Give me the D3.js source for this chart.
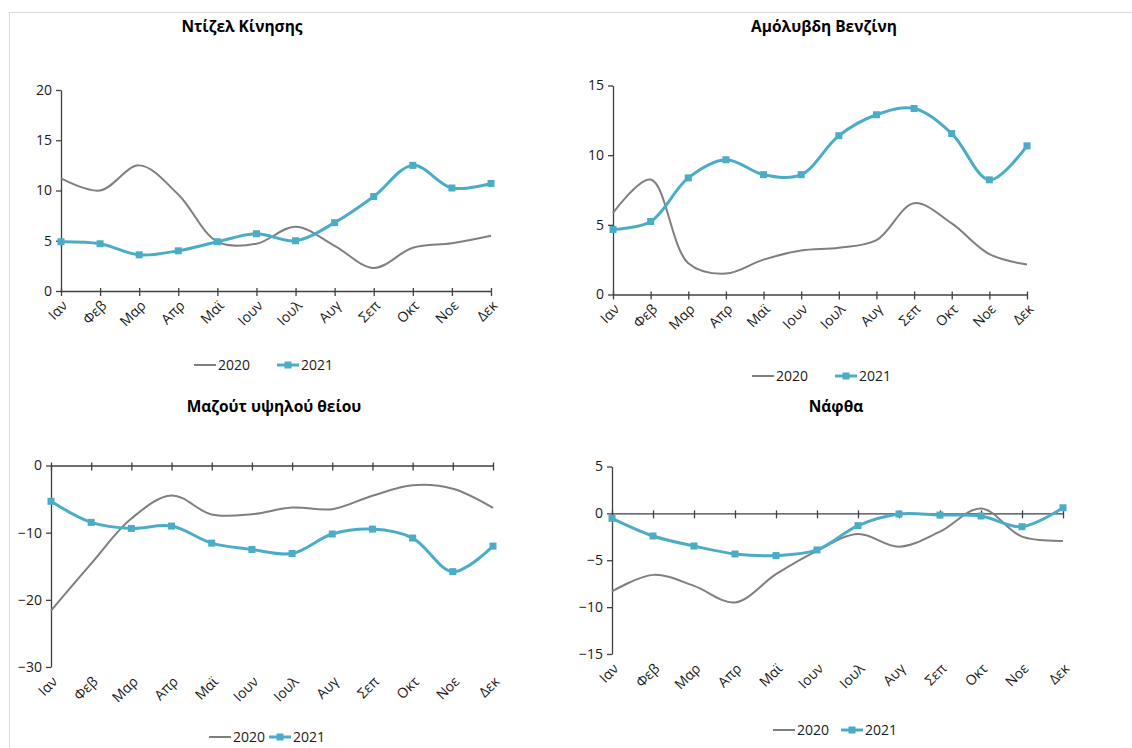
<!DOCTYPE html>
<html>
<head>
<meta charset="utf-8">
<script src="https://cdn.jsdelivr.net/npm/d3@7"></script>
<style>
  html, body { margin: 0; padding: 0; background: #ffffff; }
  svg { display: block; font-family: "Open Sans", "Noto Sans", sans-serif; }
</style>
</head>
<body>
<svg id="chart" width="1132" height="748"></svg>
<script>
// ---- Data ----
const months = ["Ιαν","Φεβ","Μαρ","Απρ","Μαϊ","Ιουν","Ιουλ","Αυγ","Σεπ","Οκτ","Νοε","Δεκ"];
const seriesNames = ["2020", "2021"];

const titles = ["Ντίζελ Κίνησης", "Αμόλυβδη Βενζίνη", "Μαζούτ υψηλού θείου", "Νάφθα"];

const diesel2020 = [11.2, 10.0, 12.5, 9.6, 4.9, 4.7, 6.4, 4.5, 2.3, 4.3, 4.75, 5.5];
const diesel2021 = [4.9, 4.7, 3.6, 4.0, 4.9, 5.7, 5.0, 6.8, 9.4, 12.5, 10.25, 10.7];

const petrol2020 = [5.85, 8.25, 2.25, 1.5, 2.5, 3.15, 3.35, 3.9, 6.55, 5.1, 2.9, 2.15];
const petrol2021 = [4.67, 5.24, 8.37, 9.67, 8.6, 8.6, 11.4, 12.9, 13.35, 11.55, 8.23, 10.67];

const fuelOil2020 = [-21.6, -14.6, -7.9, -4.45, -7.3, -7.25, -6.25, -6.5, -4.5, -2.95, -3.45, -6.3];
const fuelOil2021 = [-5.33, -8.47, -9.37, -9.02, -11.56, -12.5, -13.1, -10.2, -9.47, -10.8, -15.8, -12.0];

const naphtha2020 = [-8.33, -6.56, -7.73, -9.5, -6.49, -4.0, -2.2, -3.55, -1.95, 0.53, -2.48, -2.94];
const naphtha2021 = [-0.53, -2.41, -3.48, -4.33, -4.5, -3.9, -1.31, -0.07, -0.18, -0.28, -1.42, 0.6];

const yTicksDiesel = [0, 5, 10, 15, 20];
const yTicksPetrol = [0, 5, 10, 15];
const yTicksFuelOil = [-30, -20, -10, 0];
const yTicksNaphtha = [-15, -10, -5, 0, 5];

// ---- Layout (positions only) ----
const colors = { s2020: "#7f7f7f", s2021: "#4bacc6", axis: "#404040", text: "#1a1a1a" };

const panels = [
  { title: titles[0], a: diesel2020, b: diesel2021, ticks: yTicksDiesel,
    x0: 61, x1: 491, yTop: 90, yBot: 291, titleX: 242, titleY: 32,
    legX: 194, legY: 365, legOff: 83 },
  { title: titles[1], a: petrol2020, b: petrol2021, ticks: yTicksPetrol,
    x0: 613, x1: 1027, yTop: 85.5, yBot: 294.5, titleX: 824, titleY: 32,
    legX: 752, legY: 376, legOff: 83 },
  { title: titles[2], a: fuelOil2020, b: fuelOil2021, ticks: yTicksFuelOil,
    x0: 51, x1: 493, yTop: 465.5, yBot: 667, titleX: 274, titleY: 412,
    legX: 209, legY: 737, legOff: 60 },
  { title: titles[3], a: naphtha2020, b: naphtha2021, ticks: yTicksNaphtha,
    x0: 612, x1: 1063, yTop: 466.5, yBot: 654, titleX: 836, titleY: 412,
    legX: 773, legY: 730, legOff: 68 }
];

const svg = d3.select("#chart");
svg.append("rect").attr("width", 1132).attr("height", 748).attr("fill", "#fff");

// outer frame lines
svg.append("line").attr("x1", 9.5).attr("x2", 9.5).attr("y1", 12).attr("y2", 748)
  .attr("stroke", "#d9d9d9").attr("stroke-width", 1);
svg.append("line").attr("x1", 9).attr("x2", 1132).attr("y1", 12.5).attr("y2", 12.5)
  .attr("stroke", "#d9d9d9").attr("stroke-width", 1);

panels.forEach(p => {
  const g = svg.append("g");
  const ext = d3.extent(p.ticks);
  const x = d3.scalePoint().domain(months).range([p.x0, p.x1]);
  const y = d3.scaleLinear().domain(ext).range([p.yBot, p.yTop]);

  // title
  g.append("text").attr("x", p.titleX).attr("y", p.titleY)
    .attr("text-anchor", "middle").attr("font-size", 15.5).attr("font-weight", "bold")
    .attr("fill", "#000").text(p.title);

  // y axis
  const yAxis = g.append("g").attr("transform", `translate(${p.x0},0)`)
    .call(d3.axisLeft(y).tickValues(p.ticks).tickSizeInner(5).tickSizeOuter(0).tickPadding(4));
  yAxis.select(".domain").attr("stroke", colors.axis).attr("stroke-width", 1.3);
  yAxis.selectAll(".tick line").attr("stroke", colors.axis).attr("stroke-width", 1.3);
  yAxis.selectAll(".tick text").attr("font-size", 14).attr("fill", colors.text)
    .attr("font-family", "'Open Sans', sans-serif");

  // x axis at zero
  const y0 = y(0);
  const xAxis = g.append("g").attr("transform", `translate(0,${y0})`)
    .call(d3.axisBottom(x).tickSizeInner(5).tickSizeOuter(0).tickFormat(""));
  xAxis.select(".domain").attr("stroke", colors.axis).attr("stroke-width", 1.3);
  xAxis.selectAll(".tick line").attr("y1", -3).attr("stroke", colors.axis).attr("stroke-width", 1.3);

  // x labels at bottom of plot, rotated -45
  const lab = g.append("g").selectAll("g").data(months).join("g")
    .attr("transform", d => `translate(${x(d) + 4},${p.yBot + 12})`);
  lab.append("text")
    .attr("transform", "rotate(-45)")
    .attr("text-anchor", "end").attr("dy", "0.35em")
    .attr("font-size", 14).attr("fill", colors.text).text(d => d);

  const line = d3.line().x((d, i) => x(months[i])).y(d => y(d)).curve(d3.curveCatmullRom.alpha(0.5));

  g.append("path").datum(p.a).attr("d", line).attr("fill", "none")
    .attr("stroke", colors.s2020).attr("stroke-width", 2);
  g.append("path").datum(p.b).attr("d", line).attr("fill", "none")
    .attr("stroke", colors.s2021).attr("stroke-width", 3);
  g.append("g").selectAll("rect").data(p.b).join("rect")
    .attr("x", (d, i) => x(months[i]) - 3.5).attr("y", d => y(d) - 3.5)
    .attr("width", 7).attr("height", 7).attr("fill", colors.s2021);

  // legend
  const lg = g.append("g").attr("transform", `translate(${p.legX},${p.legY})`);
  lg.append("line").attr("x1", 0).attr("x2", 22).attr("stroke", colors.s2020).attr("stroke-width", 2);
  lg.append("text").attr("x", 24).attr("dy", "0.35em").attr("font-size", 14)
    .attr("fill", colors.text).text(seriesNames[0]);
  const off = p.legOff;
  lg.append("line").attr("x1", off).attr("x2", off + 22).attr("stroke", colors.s2021).attr("stroke-width", 3);
  lg.append("rect").attr("x", off + 11 - 3.5).attr("y", -3.5).attr("width", 7).attr("height", 7).attr("fill", colors.s2021);
  lg.append("text").attr("x", off + 24).attr("dy", "0.35em").attr("font-size", 14)
    .attr("fill", colors.text).text(seriesNames[1]);
});
</script>
</body>
</html>
